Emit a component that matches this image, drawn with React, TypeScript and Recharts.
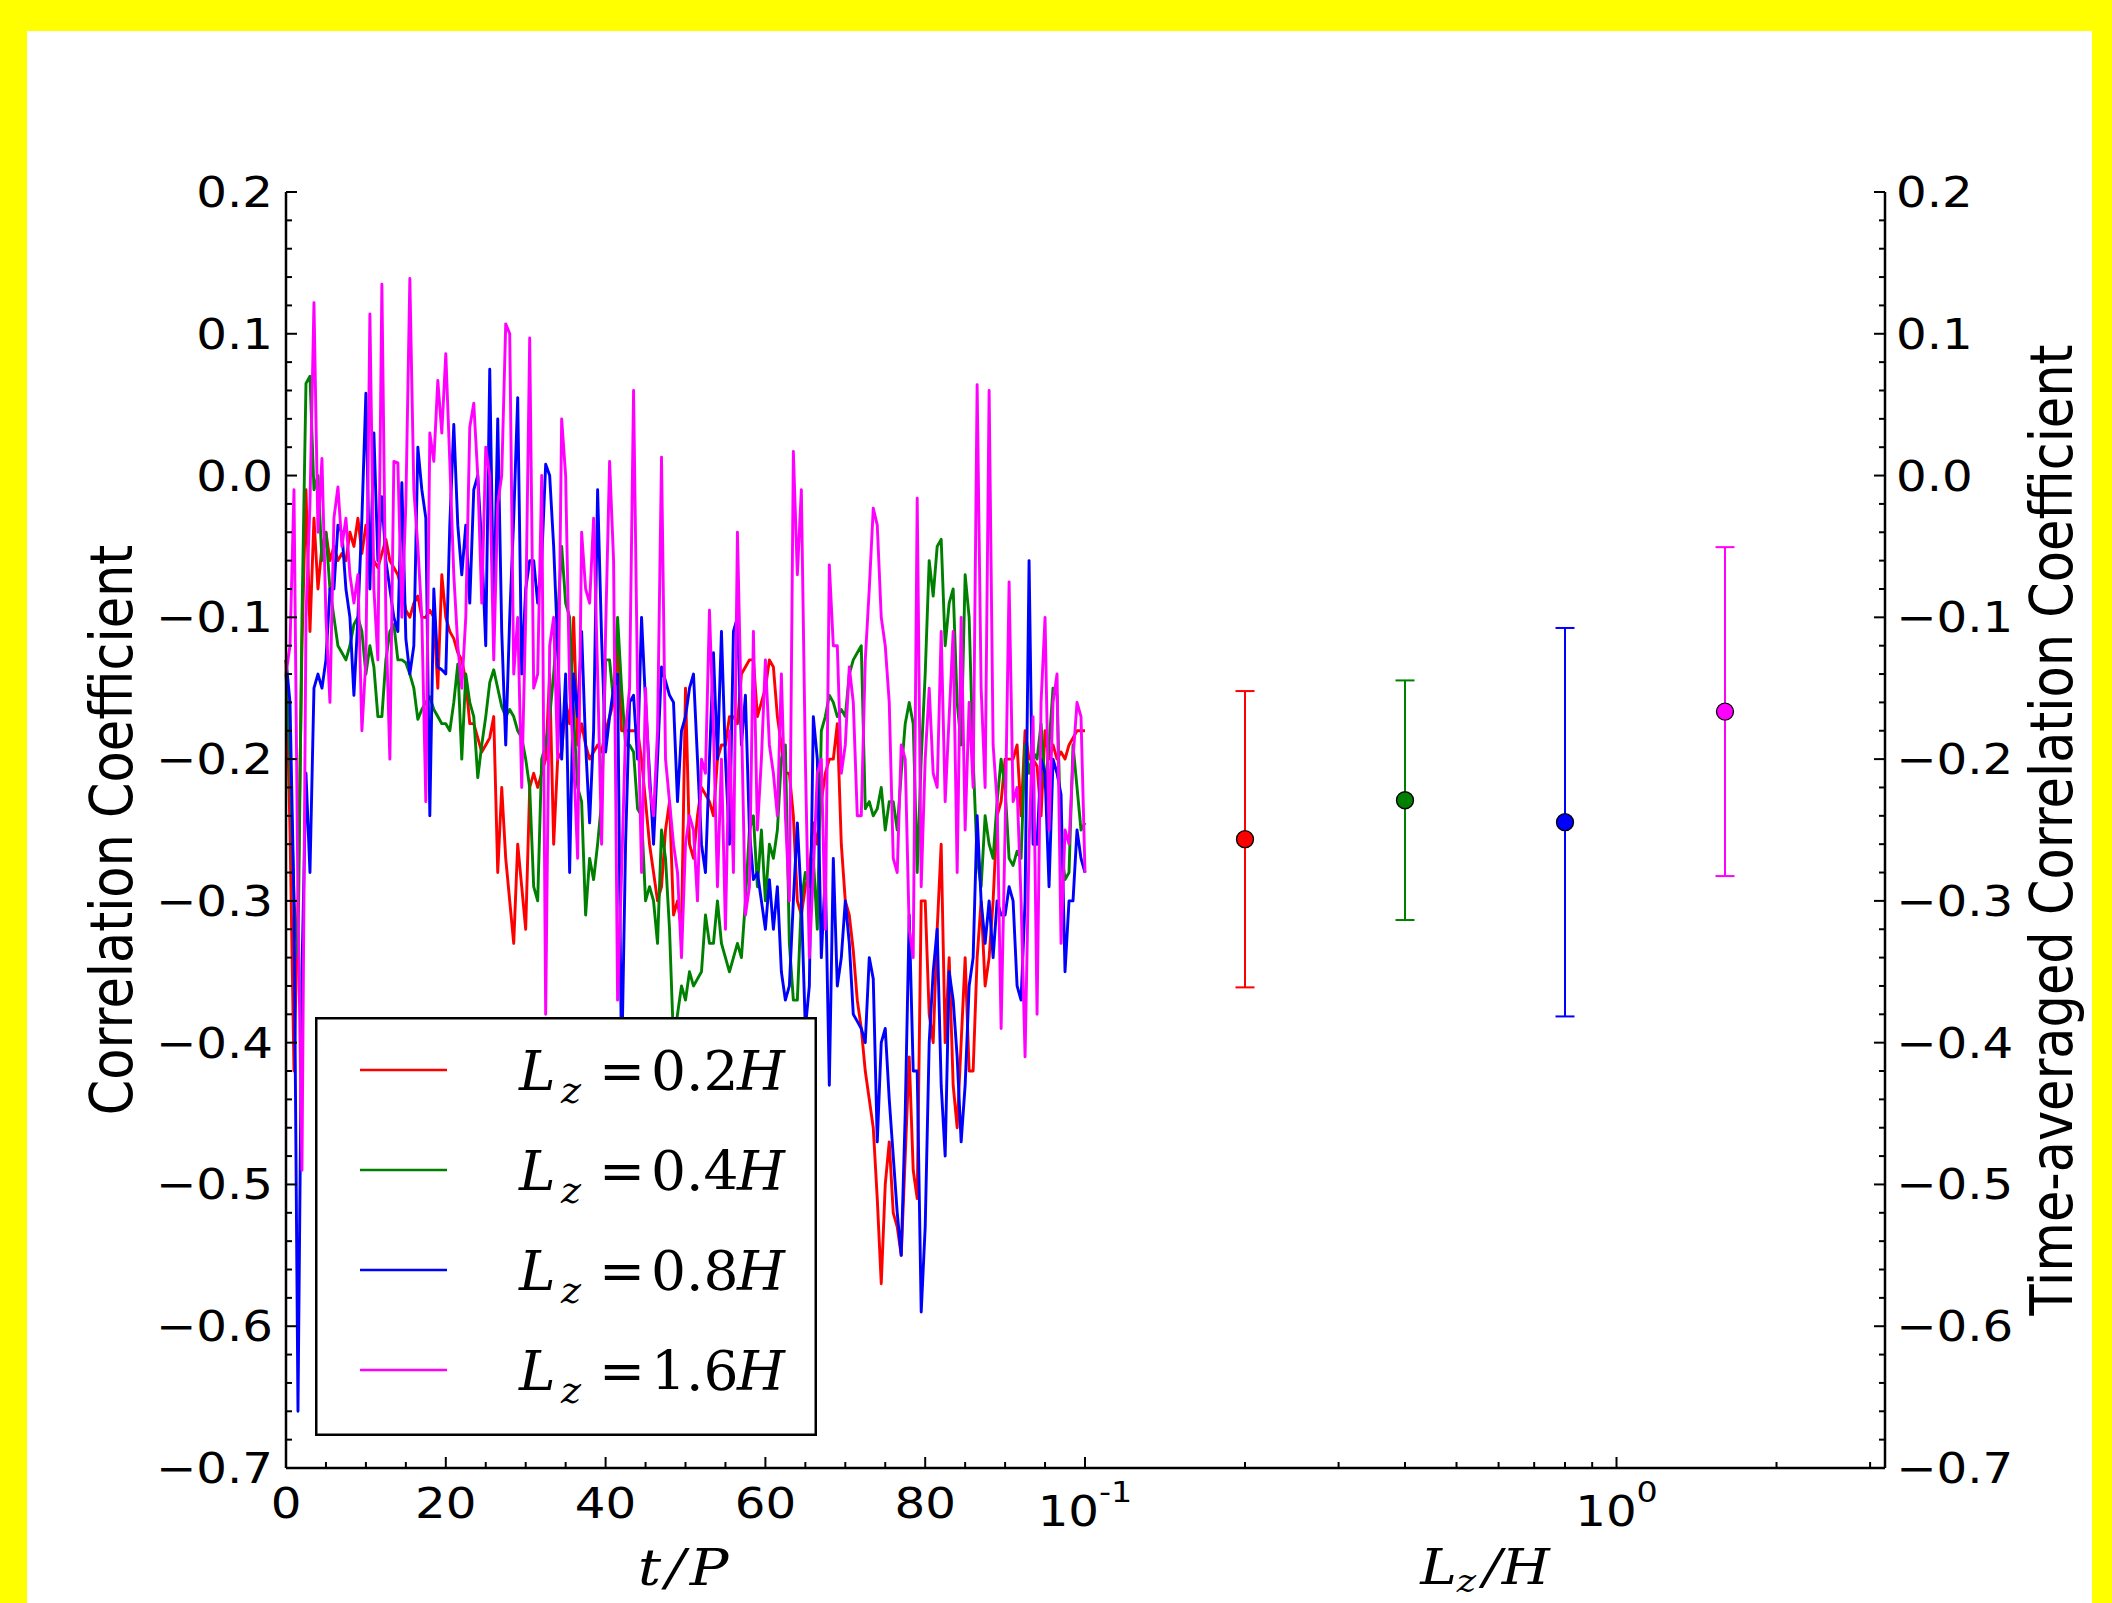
import React from 'react';
import { LineChart, Line, XAxis, YAxis, Legend, ScatterChart, Scatter, ErrorBar } from 'recharts';

// ---------------- data ----------------
const timeP = [
  0, 0.5, 1, 1.5, 2, 2.5, 3, 3.5, 4, 4.5, 5, 5.5, 6, 6.5, 7, 7.5, 8, 8.5, 9, 9.5,
  10, 10.5, 11, 11.5, 12, 12.5, 13, 13.5, 14, 14.5, 15, 15.5, 16, 16.5, 17, 17.5, 18, 18.5, 19, 19.5,
  20, 20.5, 21, 21.5, 22, 22.5, 23, 23.5, 24, 24.5, 25, 25.5, 26, 26.5, 27, 27.5, 28, 28.5, 29, 29.5,
  30, 30.5, 31, 31.5, 32, 32.5, 33, 33.5, 34, 34.5, 35, 35.5, 36, 36.5, 37, 37.5, 38, 38.5, 39, 39.5,
  40, 40.5, 41, 41.5, 42, 42.5, 43, 43.5, 44, 44.5, 45, 45.5, 46, 46.5, 47, 47.5, 48, 48.5, 49, 49.5,
  50, 50.5, 51, 51.5, 52, 52.5, 53, 53.5, 54, 54.5, 55, 55.5, 56, 56.5, 57, 57.5, 58, 58.5, 59, 59.5,
  60, 60.5, 61, 61.5, 62, 62.5, 63, 63.5, 64, 64.5, 65, 65.5, 66, 66.5, 67, 67.5, 68, 68.5, 69, 69.5,
  70, 70.5, 71, 71.5, 72, 72.5, 73, 73.5, 74, 74.5, 75, 75.5, 76, 76.5, 77, 77.5, 78, 78.5, 79, 79.5,
  80, 80.5, 81, 81.5, 82, 82.5, 83, 83.5, 84, 84.5, 85, 85.5, 86, 86.5, 87, 87.5, 88, 88.5, 89, 89.5,
  90, 90.5, 91, 91.5, 92, 92.5, 93, 93.5, 94, 94.5, 95, 95.5, 96, 96.5, 97, 97.5, 98, 98.5, 99, 99.5,
  100,
];

const corrLz02 = [
  -0.13, -0.25, -0.42, -0.3, -0.12, -0.01, -0.11, -0.03, -0.08, -0.05,
  -0.04, -0.06, -0.05, -0.06, -0.055, -0.06, -0.04, -0.05, -0.03, -0.055,
  -0.035, -0.05, -0.06, -0.065, -0.055, -0.045, -0.06, -0.065, -0.07, -0.08,
  -0.095, -0.1, -0.09, -0.085, -0.1, -0.1, -0.095, -0.1, -0.15, -0.07,
  -0.1, -0.11, -0.115, -0.125, -0.13, -0.145, -0.175, -0.175, -0.185, -0.195,
  -0.19, -0.185, -0.17, -0.28, -0.22, -0.27, -0.3, -0.33, -0.26, -0.29,
  -0.32, -0.22, -0.21, -0.22, -0.21, -0.2, -0.14, -0.26, -0.2, -0.195,
  -0.16, -0.175, -0.1, -0.19, -0.175, -0.19, -0.2, -0.195, -0.19, -0.195,
  -0.18, -0.17, -0.16, -0.12, -0.18, -0.18, -0.18, -0.18, -0.18, -0.2,
  -0.23, -0.26, -0.28, -0.3, -0.29, -0.25, -0.23, -0.31, -0.3, -0.32,
  -0.15, -0.26, -0.27, -0.24, -0.22, -0.225, -0.23, -0.24, -0.2, -0.19,
  -0.19, -0.17, -0.17, -0.175, -0.14, -0.135, -0.13, -0.13, -0.17, -0.16,
  -0.15, -0.13, -0.135, -0.17, -0.19, -0.21, -0.21, -0.24, -0.3, -0.31,
  -0.29, -0.28, -0.245, -0.26, -0.23, -0.21, -0.2, -0.2, -0.175, -0.26,
  -0.3, -0.31, -0.335, -0.37, -0.39, -0.42, -0.44, -0.46, -0.51, -0.57,
  -0.5, -0.47, -0.52, -0.53, -0.55, -0.48, -0.41, -0.49, -0.51, -0.3,
  -0.3, -0.38, -0.4, -0.32, -0.26, -0.4, -0.34, -0.43, -0.46, -0.4,
  -0.34, -0.42, -0.42, -0.34, -0.3, -0.36, -0.34, -0.3, -0.24, -0.23,
  -0.2, -0.2, -0.2, -0.19, -0.24, -0.18, -0.2, -0.2, -0.205, -0.24,
  -0.18, -0.2, -0.19, -0.2, -0.195, -0.2, -0.19, -0.185, -0.18, -0.18,
  -0.18,
];

const corrLz04 = [
  -0.14, -0.2, -0.3, -0.34, -0.1, 0.065, 0.07, -0.01, 0.0, -0.06,
  -0.04, -0.08, -0.1, -0.12, -0.125, -0.13, -0.12, -0.105, -0.1, -0.11,
  -0.14, -0.12, -0.135, -0.17, -0.17, -0.13, -0.11, -0.105, -0.13, -0.13,
  -0.132, -0.14, -0.15, -0.172, -0.165, -0.16, -0.156, -0.165, -0.17, -0.175,
  -0.175, -0.18, -0.16, -0.133, -0.2, -0.14, -0.16, -0.17, -0.213, -0.19,
  -0.17, -0.146, -0.137, -0.15, -0.163, -0.17, -0.165, -0.17, -0.18, -0.185,
  -0.2, -0.22, -0.29, -0.3, -0.2, -0.19, -0.17, -0.14, -0.1, -0.05,
  -0.09, -0.1, -0.17, -0.22, -0.23, -0.31, -0.27, -0.285, -0.26, -0.23,
  -0.13, -0.13, -0.16, -0.1, -0.15, -0.19, -0.19, -0.195, -0.235, -0.24,
  -0.3, -0.29, -0.3, -0.33, -0.25, -0.27, -0.32, -0.4, -0.38, -0.36,
  -0.37, -0.35, -0.36, -0.355, -0.35, -0.31, -0.33, -0.33, -0.3, -0.33,
  -0.34, -0.35, -0.34, -0.33, -0.34, -0.3, -0.25, -0.24, -0.29, -0.25,
  -0.3, -0.26, -0.27, -0.25, -0.2, -0.19, -0.33, -0.37, -0.37, -0.3,
  -0.28, -0.29, -0.27, -0.32, -0.18, -0.17, -0.155, -0.16, -0.17, -0.165,
  -0.17, -0.14, -0.13, -0.125, -0.12, -0.235, -0.23, -0.24, -0.235, -0.22,
  -0.25, -0.23, -0.23, -0.25, -0.21, -0.175, -0.16, -0.175, -0.28, -0.2,
  -0.14, -0.06, -0.085, -0.05, -0.045, -0.12, -0.09, -0.08, -0.16, -0.19,
  -0.07, -0.1, -0.2, -0.27, -0.29, -0.24, -0.26, -0.27, -0.23, -0.2,
  -0.22, -0.27, -0.275, -0.265, -0.27, -0.19, -0.21, -0.195, -0.2, -0.175,
  -0.22, -0.19, -0.15, -0.155, -0.26, -0.285, -0.28, -0.19, -0.22, -0.25,
  -0.245,
];

const corrLz08 = [
  -0.13, -0.16, -0.3, -0.66, -0.35, -0.21, -0.28, -0.15, -0.14, -0.15,
  -0.13, -0.08, -0.08, -0.035, -0.04, -0.08, -0.1, -0.155, -0.1, -0.03,
  0.058, -0.08, 0.03, -0.06, -0.015, -0.06, -0.08, -0.1, -0.11, -0.005,
  -0.115, -0.14, -0.12, 0.02, -0.01, -0.03, -0.24, -0.08, -0.135, -0.137,
  -0.14, -0.035, 0.036, -0.035, -0.07, -0.035, -0.09, -0.01, 0.0, -0.05,
  -0.12, 0.075, -0.1, 0.04, -0.11, -0.19, -0.1, -0.03, 0.055, -0.14,
  -0.08, -0.06, -0.06, -0.09, -0.06, 0.008, 0.0, -0.05, -0.12, -0.2,
  -0.14, -0.28, -0.14, -0.17, -0.11, -0.19, -0.245, -0.18, -0.01, -0.115,
  -0.195, -0.17, -0.15, -0.14, -0.42, -0.26, -0.16, -0.155, -0.2, -0.1,
  -0.16, -0.21, -0.26, -0.2, -0.135, -0.145, -0.155, -0.16, -0.23, -0.18,
  -0.17, -0.15, -0.14, -0.2, -0.26, -0.28, -0.2, -0.125, -0.2, -0.11,
  -0.2, -0.26, -0.11, -0.1, -0.19, -0.155, -0.25, -0.285, -0.28, -0.3,
  -0.32, -0.285, -0.32, -0.29, -0.35, -0.37, -0.36, -0.3, -0.245, -0.3,
  -0.39, -0.36, -0.17, -0.2, -0.34, -0.28, -0.43, -0.27, -0.36, -0.34,
  -0.3, -0.33, -0.38, -0.385, -0.39, -0.4, -0.34, -0.355, -0.47, -0.4,
  -0.39, -0.44, -0.48, -0.52, -0.55, -0.45, -0.31, -0.42, -0.42, -0.59,
  -0.53, -0.4, -0.35, -0.32, -0.43, -0.48, -0.35, -0.37, -0.41, -0.47,
  -0.43, -0.36, -0.34, -0.24, -0.3, -0.33, -0.3, -0.34, -0.3, -0.31,
  -0.31, -0.29, -0.3, -0.36, -0.37, -0.3, -0.06, -0.26, -0.26, -0.2,
  -0.21, -0.29, -0.2, -0.21, -0.225, -0.35, -0.3, -0.3, -0.25, -0.27,
  -0.28,
];

const corrLz16 = [
  -0.14, -0.12, -0.01, -0.3, -0.49, -0.1, -0.02, 0.122, -0.04, 0.012,
  -0.1, -0.16, -0.03, -0.008, -0.05, -0.03, -0.07, -0.09, -0.07, -0.18,
  -0.13, 0.114, -0.08, -0.13, 0.135, -0.1, -0.2, 0.01, 0.009, -0.1,
  -0.02, 0.139, -0.01, -0.05, -0.1, -0.23, 0.03, 0.01, 0.067, 0.03,
  0.086, 0.01, -0.07, -0.12, -0.15, -0.1, 0.034, 0.051, 0.0, -0.09,
  0.02, 0.0, -0.13, -0.02, 0.0, 0.107, 0.1, -0.14, -0.1, -0.22,
  -0.1, 0.097, -0.15, -0.14, 0.0, -0.38, -0.12, -0.1, -0.2, 0.04,
  0.0, -0.15, -0.2, -0.27, -0.04, -0.08, -0.09, -0.03, -0.14, -0.26,
  -0.11, 0.01, -0.06, -0.37, -0.28, -0.18, -0.15, 0.06, -0.15, -0.28,
  -0.15, -0.22, -0.24, -0.18, 0.013, -0.2, -0.23, -0.26, -0.28, -0.34,
  -0.26, -0.24, -0.25, -0.3, -0.2, -0.21, -0.095, -0.18, -0.29, -0.2,
  -0.32, -0.18, -0.28, -0.04, -0.17, -0.31, -0.29, -0.11, -0.25, -0.2,
  -0.13, -0.19, -0.21, -0.24, -0.14, -0.24, -0.3, 0.017, -0.07, -0.01,
  -0.2, -0.34, -0.28, -0.21, -0.2, -0.32, -0.063, -0.12, -0.12, -0.21,
  -0.19, -0.135, -0.16, -0.24, -0.24, -0.13, -0.08, -0.023, -0.035, -0.1,
  -0.12, -0.16, -0.27, -0.28, -0.19, -0.2, -0.32, -0.34, -0.016, -0.29,
  -0.2, -0.15, -0.21, -0.22, -0.11, -0.23, -0.17, -0.11, -0.28, -0.1,
  -0.25, -0.16, -0.22, 0.064, -0.15, -0.22, 0.06, -0.19, -0.23, -0.39,
  -0.25, -0.075, -0.23, -0.22, -0.3, -0.41, -0.26, -0.17, -0.38, -0.16,
  -0.1, -0.25, -0.16, -0.14, -0.33, -0.25, -0.26, -0.2, -0.16, -0.17,
  -0.28,
];

const seriesKeys = ['lz02', 'lz04', 'lz08', 'lz16'];
const seriesLabels = ['0.2', '0.4', '0.8', '1.6'];
const seriesColors = ['#ff0000', '#008000', '#0000ff', '#ff00ff'];

// time-averaged values (right panel)
const lzValues = [0.2, 0.4, 0.8, 1.6];
const meanCorr = [-0.2565, -0.229, -0.2445, -0.1665];
const errCorr = [0.1045, 0.0845, 0.137, 0.116];

// ticks
const yMajorTicks = [0.2, 0.1, 0, -0.1, -0.2, -0.3, -0.4, -0.5, -0.6, -0.7];
const yAllTicks = [
  0.2, 0.18, 0.16, 0.14, 0.12, 0.1, 0.08, 0.06, 0.04, 0.02, 0,
  -0.02, -0.04, -0.06, -0.08, -0.1, -0.12, -0.14, -0.16, -0.18, -0.2,
  -0.22, -0.24, -0.26, -0.28, -0.3, -0.32, -0.34, -0.36, -0.38, -0.4,
  -0.42, -0.44, -0.46, -0.48, -0.5, -0.52, -0.54, -0.56, -0.58, -0.6,
  -0.62, -0.64, -0.66, -0.68, -0.7,
];
const tAllTicks = [0, 5, 10, 15, 20, 25, 30, 35, 40, 45, 50, 55, 60, 65, 70, 75, 80, 85, 90, 95, 100];
const tMajorTicks = [0, 20, 40, 60, 80, 100];
const tLabelTicks = [0, 20, 40, 60, 80];
const lzAllTicks = [0.1, 0.2, 0.3, 0.4, 0.5, 0.6, 0.7, 0.8, 0.9, 1, 2, 3];
const lzMajorTicks = [0.1, 1];
const lzMajorExps = ['-1', '0'];

const lineData = timeP.map((t, i) => ({
  t,
  lz02: corrLz02[i],
  lz04: corrLz04[i],
  lz08: corrLz08[i],
  lz16: corrLz16[i],
}));

// ---------------- style helpers ----------------
const SANS = '"DejaVu Sans", sans-serif';
const SERIF = '"DejaVu Serif", serif';
const STRETCH = 1.15;
const TICK_W = 2;
const TICK_FS = 42;
const AXIS_LINE = { stroke: '#000', strokeWidth: 2.5 };
const tickLen = (major: boolean) => (major ? 11 : 6);
const isIn = (arr: number[], v: number) => arr.some((a) => Math.abs(a - v) < 1e-9);
const fmtY = (v: number) => (Math.abs(v) < 1e-9 ? '0.0' : v.toFixed(1).replace('-', '\u2212'));

const makeYTick = (side: 'left' | 'right', withLabels: boolean) => (props: any) => {
  const { x, y, payload } = props;
  const v = payload.value;
  const major = isIn(yMajorTicks, v);
  const dir = side === 'left' ? 1 : -1;
  return (
    <g>
      <line x1={x} y1={y} x2={x + dir * tickLen(major)} y2={y} stroke="#000" strokeWidth={TICK_W} />
      {withLabels && major ? (
        <text
          transform={`translate(${side === 'left' ? x - 13 : x + 11},${y + 15}) scale(${STRETCH},1)`}
          textAnchor={side === 'left' ? 'end' : 'start'}
          fontFamily={SANS}
          fontSize={TICK_FS}
          fill="#000"
        >
          {fmtY(v)}
        </text>
      ) : null}
    </g>
  );
};

const makeTTick = (side: 'bottom' | 'top') => (props: any) => {
  const { x, y, payload } = props;
  const v = payload.value;
  const major = isIn(tMajorTicks, v);
  const dir = side === 'bottom' ? -1 : 1;
  return (
    <g>
      <line x1={x} y1={y} x2={x} y2={y + dir * tickLen(major)} stroke="#000" strokeWidth={TICK_W} />
      {side === 'bottom' && isIn(tLabelTicks, v) ? (
        <text
          transform={`translate(${x},${y + 50}) scale(${STRETCH},1)`}
          textAnchor="middle"
          fontFamily={SANS}
          fontSize={TICK_FS}
          fill="#000"
        >
          {String(v)}
        </text>
      ) : null}
    </g>
  );
};

const makeLogTick = (side: 'bottom' | 'top') => (props: any) => {
  const { x, y, payload } = props;
  const v = payload.value;
  const idx = lzMajorTicks.findIndex((m) => Math.abs(m - v) < 1e-9);
  const major = idx >= 0;
  const dir = side === 'bottom' ? -1 : 1;
  return (
    <g>
      <line x1={x} y1={y} x2={x} y2={y + dir * tickLen(major)} stroke="#000" strokeWidth={TICK_W} />
      {side === 'bottom' && major ? (
        <text
          transform={`translate(${x},${y + 58}) scale(${STRETCH},1)`}
          textAnchor="middle"
          fontFamily={SANS}
          fontSize={TICK_FS}
          fill="#000"
        >
          <tspan>10</tspan>
          <tspan dy={-24} fontSize={29}>
            {lzMajorExps[idx]}
          </tspan>
        </text>
      ) : null}
    </g>
  );
};

const leftTitle = (props: any) => {
  const vb = props.viewBox;
  const cy = vb.y + vb.height / 2;
  return (
    <text
      transform={`translate(${vb.x - 64},${cy}) scale(${STRETCH},1) rotate(-90)`}
      textAnchor="middle"
      fontFamily={SANS}
      fontSize={51}
      fill="#000"
    >
      Correlation Coefficient
    </text>
  );
};

const rightTitle = (props: any) => {
  const vb = props.viewBox;
  const cy = vb.y + vb.height / 2;
  return (
    <text
      transform={`translate(${vb.x + 187},${cy}) scale(${STRETCH},1) rotate(-90)`}
      textAnchor="middle"
      fontFamily={SANS}
      fontSize={51}
      fill="#000"
    >
      Time-averaged Correlation Coefficient
    </text>
  );
};

const timeTitle = (props: any) => {
  const vb = props.viewBox;
  return (
    <text
      transform={`translate(${vb.x + vb.width / 2},${vb.y + 117}) scale(${STRETCH},1)`}
      textAnchor="middle"
      fontFamily={SERIF}
      fontStyle="italic"
      fontSize={50}
      letterSpacing={4}
      fill="#000"
    >
      t/P
    </text>
  );
};

const lzTitle = (props: any) => {
  const vb = props.viewBox;
  return (
    <text
      transform={`translate(${vb.x + vb.width / 2},${vb.y + 116}) scale(${STRETCH},1)`}
      textAnchor="middle"
      fontFamily={SERIF}
      fontStyle="italic"
      fontSize={48}
      fill="#000"
    >
      <tspan>L</tspan>
      <tspan dy={8} fontSize={32}>z</tspan>
      <tspan dy={-8} dx={6}>/H</tspan>
    </text>
  );
};

const LegendBox = (props: any) => {
  const payload = props.payload || [];
  return (
    <svg width={502} height={419} style={{ display: 'block' }}>
      <rect x={1.25} y={1.25} width={499.5} height={416.5} fill="#fff" stroke="#000" strokeWidth={2.5} />
      {payload.map((entry: any, i: number) => {
        const ly = 53 + 100 * i;
        const base = ly + 20;
        return (
          <g key={i}>
            <line x1={45} y1={ly} x2={132} y2={ly} stroke={entry.color} strokeWidth={2.6} />
            <text y={base} fontFamily={SERIF} fontSize={55} fill="#000">
              <tspan x={204} fontStyle="italic">L</tspan>
              <tspan x={246} dy={13} fontSize={38} fontStyle="italic">z</tspan>
              <tspan x={284} dy={-13}>=</tspan>
              <tspan x={336}>{entry.value}</tspan>
              <tspan x={422} fontStyle="italic">H</tspan>
            </text>
          </g>
        );
      })}
    </svg>
  );
};

const CircleMarker = (color: string) => (p: any) => (
  <circle cx={p.cx} cy={p.cy} r={8.5} fill={color} stroke="#000" strokeWidth={1.3} />
);

export default function App() {
  return (
    <div
      style={{
        position: 'absolute',
        left: 0,
        top: 0,
        width: 2112,
        height: 1603,
        background: '#ffff00',
        overflow: 'hidden',
      }}
    >
      <div style={{ position: 'absolute', left: 27, top: 31, width: 2065, height: 1572, background: '#ffffff' }} />

      {/* left panel: time series */}
      <div style={{ position: 'absolute', left: 0, top: 0 }}>
        <LineChart width={1100} height={1603} data={lineData} margin={{ top: 192, right: 15, bottom: 75, left: 196 }}>
          <XAxis
            xAxisId="b"
            dataKey="t"
            type="number"
            domain={[0, 100]}
            ticks={tAllTicks}
            interval={0}
            tickSize={0}
            tickMargin={0}
            tickLine={false}
            height={60}
            axisLine={AXIS_LINE}
            tick={makeTTick('bottom')}
            label={timeTitle}
          />
          <XAxis
            xAxisId="t"
            orientation="top"
            dataKey="t"
            type="number"
            domain={[0, 100]}
            ticks={tAllTicks}
            interval={0}
            tickSize={0}
            tickMargin={0}
            tickLine={false}
            height={0}
            axisLine={AXIS_LINE}
            tick={makeTTick('top')}
          />
          <YAxis
            yAxisId="l"
            type="number"
            domain={[-0.7, 0.2]}
            ticks={yAllTicks}
            interval={0}
            tickSize={0}
            tickMargin={0}
            tickLine={false}
            width={90}
            axisLine={AXIS_LINE}
            tick={makeYTick('left', true)}
            label={leftTitle}
          />
          <YAxis
            yAxisId="r"
            orientation="right"
            type="number"
            domain={[-0.7, 0.2]}
            ticks={yAllTicks}
            interval={0}
            tickSize={0}
            tickMargin={0}
            tickLine={false}
            width={0}
            axisLine={AXIS_LINE}
            tick={makeYTick('right', false)}
          />
          {seriesKeys.map((k, i) => (
            <Line
              key={k}
              xAxisId="b"
              yAxisId="l"
              type="linear"
              dataKey={k}
              name={seriesLabels[i]}
              stroke={seriesColors[i]}
              strokeWidth={2.9}
              strokeLinejoin="round"
              dot={false}
              activeDot={false}
              isAnimationActive={false}
            />
          ))}
          <Legend
            layout="vertical"
            align="center"
            verticalAlign="middle"
            wrapperStyle={{ left: 315, top: 1017, width: 502, height: 419 }}
            content={LegendBox}
          />
        </LineChart>
      </div>

      {/* right panel: time-averaged values */}
      <div style={{ position: 'absolute', left: 1000, top: 0 }}>
        <ScatterChart width={1112} height={1603} margin={{ top: 192, right: 77, bottom: 75, left: 85 }}>
          <XAxis
            xAxisId="b"
            dataKey="lz"
            type="number"
            scale="log"
            domain={[0.1, 3.2]}
            allowDataOverflow
            ticks={lzAllTicks}
            interval={0}
            tickSize={0}
            tickMargin={0}
            tickLine={false}
            height={60}
            axisLine={AXIS_LINE}
            tick={makeLogTick('bottom')}
            label={lzTitle}
          />
          <XAxis
            xAxisId="t"
            orientation="top"
            dataKey="lz"
            type="number"
            scale="log"
            domain={[0.1, 3.2]}
            allowDataOverflow
            ticks={lzAllTicks}
            interval={0}
            tickSize={0}
            tickMargin={0}
            tickLine={false}
            height={0}
            axisLine={AXIS_LINE}
            tick={makeLogTick('top')}
          />
          <YAxis
            yAxisId="l"
            dataKey="mean"
            type="number"
            domain={[-0.7, 0.2]}
            allowDataOverflow
            ticks={yAllTicks}
            interval={0}
            tickSize={0}
            tickMargin={0}
            tickLine={false}
            width={0}
            axisLine={AXIS_LINE}
            tick={makeYTick('left', false)}
          />
          <YAxis
            yAxisId="r"
            orientation="right"
            type="number"
            domain={[-0.7, 0.2]}
            allowDataOverflow
            ticks={yAllTicks}
            interval={0}
            tickSize={0}
            tickMargin={0}
            tickLine={false}
            width={150}
            axisLine={AXIS_LINE}
            tick={makeYTick('right', true)}
            label={rightTitle}
          />
          {lzValues.map((lz, i) => (
            <Scatter
              key={i}
              xAxisId="b"
              yAxisId="l"
              name={seriesLabels[i]}
              data={[{ lz, mean: meanCorr[i], err: errCorr[i] }]}
              fill={seriesColors[i]}
              shape={CircleMarker(seriesColors[i])}
              isAnimationActive={false}
            >
              <ErrorBar
                dataKey="err"
                direction="y"
                width={9.5}
                stroke={seriesColors[i]}
                strokeWidth={2}
                isAnimationActive={false}
              />
            </Scatter>
          ))}
        </ScatterChart>
      </div>
    </div>
  );
}
